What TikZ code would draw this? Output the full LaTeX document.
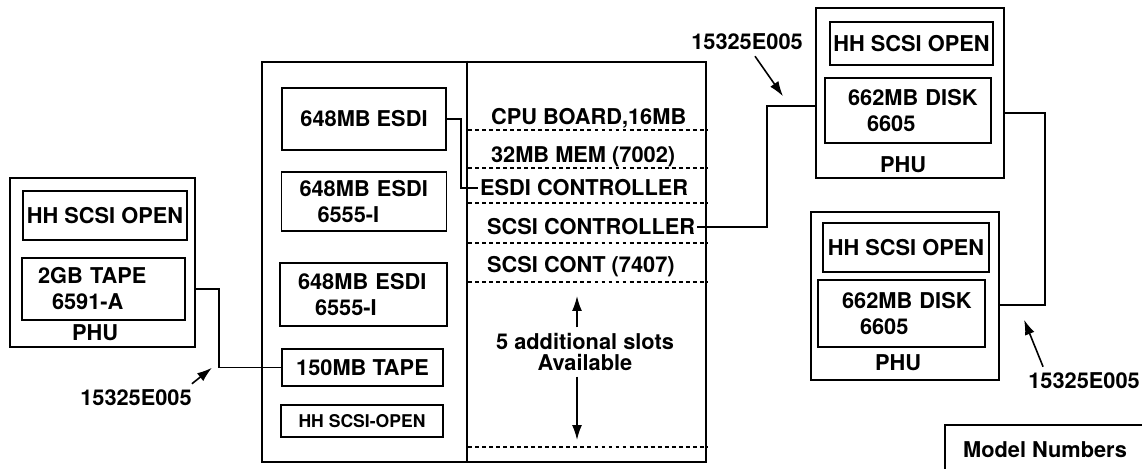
\documentclass[tikz,border=0pt]{standalone}
\usepackage{fontspec}
\setmainfont{TeX Gyre Heros}
\usetikzlibrary{arrows.meta,calc}

\begin{document}
\begin{tikzpicture}[x=0.02cm,y=-0.02cm]
    \tikzstyle{every node}=[font=\bfseries\fontsize{12.4}{14.8}\selectfont]
    \tikzstyle{frame}=[draw, line width=1.1pt, inner sep=0pt]
    \tikzstyle{card}=[draw, line width=1pt, inner sep=0pt, align=left]
    \tikzstyle{rowtext}=[anchor=west, inner xsep=1pt]
    \tikzstyle{wire}=[line width=0.8pt]
    \tikzstyle{slot}=[line width=0.8pt, dash pattern=on 2.2pt off 1.8pt]
    \tikzstyle{arr}=[line width=0.9pt, -{Latex[length=3mm,width=2mm]}]

      \useasboundingbox (0,0) rectangle (1142,469);
      \clip (0,0) rectangle (1142,469);

      % left PHU
      \node[frame, minimum width=3.7cm, minimum height=3.38cm] (phuL) at (102.5,262.5) {};
      \node[card, align=center, minimum width=3.28cm, minimum height=0.98cm] (hhL) at (105,215.5) {HH SCSI OPEN};
      \node[card, text width=3.26cm, minimum height=1.24cm] (tapeL) at (103.5,289)
         {\hspace*{0.32cm}2GB TAPE\\\hspace*{0.6cm}6591-A};
      \node (phuLtxt) at (95,333) {PHU};

      % main unit
      \node[frame, line width=1.5pt, minimum width=8.88cm, minimum height=8cm] (main) at (484,262) {};
      \coordinate (divT) at ($(main.north west)+(206,0)$);
      \coordinate (divB) at ($(main.south west)+(206,0)$);
      \draw[line width=1.1pt] (divT) -- (divB);

      % drive bays
      \node[card, align=center, minimum width=3.28cm, minimum height=1.24cm] (esdiA) at (364,119) {648MB ESDI};
      \node[card, text width=3.3cm, minimum height=1.18cm] (esdiB) at (364,201.5)
         {\hspace*{0.36cm}648MB ESDI\\\hspace*{0.72cm}6555-I};
      \node[card, text width=3.34cm, minimum height=1.26cm] (esdiC) at (363.5,294.5)
         {\hspace*{0.36cm}648MB ESDI\\\hspace*{0.7cm}6555-I};
      \node[card, align=center, minimum width=3.22cm, minimum height=0.74cm] (tape150) at (362.5,367.5) {150MB TAPE};
      \node[card, align=center, minimum width=3.24cm, minimum height=0.64cm,
            font=\bfseries\fontsize{10}{12}\selectfont] (hhC) at (362,421) {HH SCSI-OPEN};

      % card slots
      \node[rowtext] (cpu)  at (489,118) {CPU BOARD,16MB};
      \node[rowtext] (mem)  at (489,157) {32MB MEM (7002)};
      \node[rowtext] (ctlE) at (478,188) {ESDI CONTROLLER};
      \node[rowtext] (ctlS) at (485,227) {SCSI CONTROLLER};
      \node[rowtext] (ctlT) at (485,267) {SCSI CONT (7407)};

      \foreach \y/\n in {130/1,168/2,203/3,243/4,282/5,447/6} {
        \coordinate (r\n) at (468,\y);
        \draw[slot] (r\n) -- (r\n -| main.east);
      }

      \node[align=center, font=\bfseries\fontsize{12.4}{11.6}\selectfont] (slots) at (585,352)
         {5 additional slots\\Available};
      \coordinate (slotx) at (577,0);
      \draw[arr] (slots.north -| slotx) -- ($(slotx |- r5)+(0,14)$);
      \draw[arr] (slots.south -| slotx) -- ($(slotx |- r6)+(0,-7)$);

      % right PHUs
      \node[frame, minimum width=3.76cm, minimum height=3.4cm] (phuA) at (910,93) {};
      \node[card, align=center, minimum width=3.26cm, minimum height=0.86cm] (hhA) at (911.5,43.5) {HH SCSI OPEN};
      \node[card, text width=3.32cm, minimum height=1.3cm] (diskA) at (908,110.5)
         {\hspace*{0.46cm}662MB DISK\\\hspace*{0.84cm}6605};
      \node (phuAtxt) at (903,165) {PHU};

      \node[frame, minimum width=3.76cm, minimum height=3.36cm] (phuB) at (905,296) {};
      \node[card, align=center, minimum width=3.32cm, minimum height=0.98cm] (hhB) at (906,247.5) {HH SCSI OPEN};
      \node[card, text width=3.34cm, minimum height=1.34cm] (diskB) at (901.5,313.5)
         {\hspace*{0.48cm}662MB DISK\\\hspace*{0.84cm}6605};
      \node (phuBtxt) at (898,363) {PHU};

      % cables
      \draw[wire] (esdiA.east) -- ++(14,0) |- (ctlE.west);
      \draw[wire] (tapeL.east -| phuL.east) -- ++(23,0) |- (tape150.west);
      \coordinate (jA) at (767,106);
      \draw[wire] (ctlS.east) -| (jA) -- (jA -| phuA.west);
      \coordinate (jB) at (1045,113);
      \coordinate (jC) at (1045,305);
      \draw[wire] (jB -| phuA.east) -- (jB) -- (jC) -- (jC -| phuB.east);

      % cable part numbers
      \node (lblL) at (136,398) {15325E005};
      \draw[arr] ([xshift=-0.12cm]lblL.north east) -- ++(20,-16);
      \node (lblA) at (747,42) {15325E005};
      \draw[arr] ([xshift=0.16cm]lblA.south) -- ++(28,40);
      \node (lblB) at (1084,381) {15325E005};
      \draw[arr] ([xshift=0.42cm]lblB.north west) -- ++(-19,-47);

      % legend
      \node (model) at (1045,450) {Model Numbers};
      \draw[line width=1.1pt] (945,480) |- (1160,425);

\end{tikzpicture}
\end{document}
